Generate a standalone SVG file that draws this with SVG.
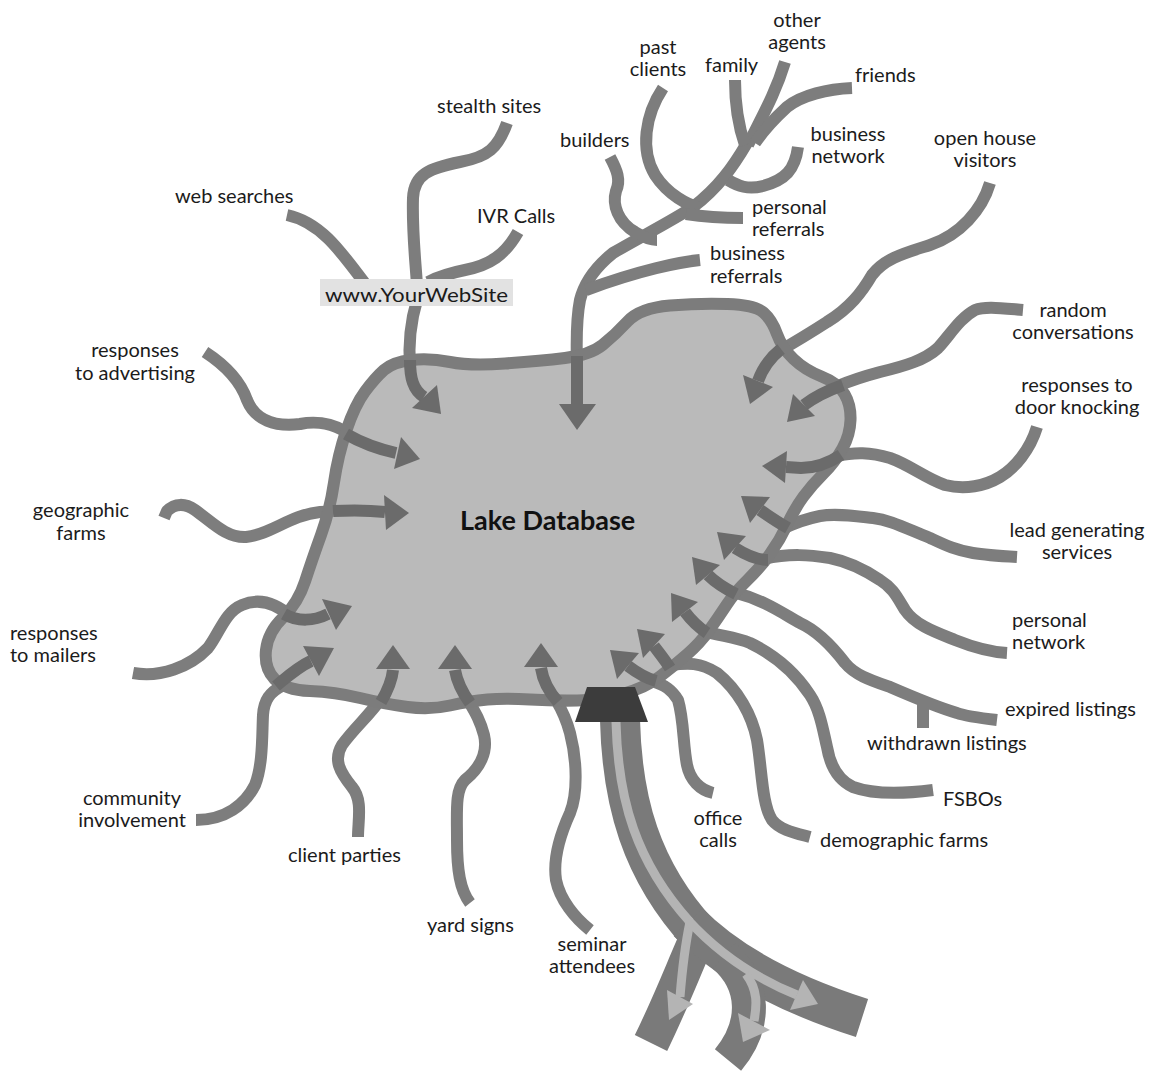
<svg xmlns="http://www.w3.org/2000/svg" width="1156" height="1076" viewBox="0 0 1156 1076">
<style>
.s{fill:none;stroke:#7d7d7d;stroke-width:12;stroke-linecap:butt;stroke-linejoin:round}
.a{fill:none;stroke:#6b6b6b;stroke-width:12;stroke-linecap:butt}
.h{fill:#6b6b6b}
.lbl{font-family:Lato,"Liberation Sans",sans-serif;font-size:20px;fill:#1b1b1b}
.c{text-anchor:middle}
.r{fill:none;stroke:#7a7a7a;stroke-linecap:butt}
.st{fill:none;stroke:#b4b4b4;stroke-width:9;stroke-linecap:butt}
.sh{fill:#b4b4b4}
</style>
<rect width="1156" height="1076" fill="#ffffff"/>
<g id="connectors">
<path class="s" d="M747,143 C733,167 718,188 693,207 C670,222 640,237 613,253 C598,265 585,280 580,300 C575,325 577,350 577,370"/>
<path class="s" d="M785,62 C775,95 760,120 748,145"/>
<path class="s" d="M735,80 C735,105 738,125 745,145"/>
<path class="s" d="M852,88 C828,89 802,95 787,107 C775,118 765,128 755,143"/>
<path class="s" d="M798,147 C795,170 785,180 763,186 C748,190 738,186 728,180"/>
<path class="s" d="M663,88 C645,115 640,150 655,175 C668,195 688,205 700,208"/>
<path class="s" d="M743,218 C725,218 705,217 686,214"/>
<path class="s" d="M610,157 C617,170 621,180 616,191 C612,205 618,222 635,232 C643,237 650,240 657,240"/>
<path class="s" d="M700,260 C680,262 640,270 586,290"/>
<path class="s" d="M287,215 C320,222 340,250 366,285"/>
<path class="s" d="M507,123 C498,148 488,157 460,162 C430,168 414,174 413,198 C412,230 415,255 417,285"/>
<path class="s" d="M417,300 C411,320 408,340 410,368"/>
<path class="s" d="M518,232 C505,255 490,265 465,270 C450,273 440,276 428,282"/>
<path class="s" d="M205,352 C225,365 240,380 247,400 C255,420 275,427 300,424 C320,420 340,425 356,440"/>
<path class="s" d="M164,518 L167,511 C175,503 185,503 195,510 C212,522 226,538 246,537 C270,535 290,515 320,512 L342,511"/>
<path class="s" d="M133,673 C160,678 190,667 208,648 C220,632 225,612 242,605 C258,598 275,602 293,618"/>
<path class="s" d="M196,820 C225,820 245,805 255,785 C263,765 262,735 263,715 C264,700 270,692 282,686"/>
<path class="s" d="M358,837 C358,820 363,800 352,787 C340,772 333,760 342,745 C355,727 370,715 383,696"/>
<path class="s" d="M470,903 C460,890 457,870 457,840 C457,810 455,790 465,780 C480,768 488,752 484,735 C480,720 475,712 468,700"/>
<path class="s" d="M590,930 C575,918 560,900 556,880 C553,860 560,835 570,813 C578,793 577,760 570,733 C566,718 562,710 556,700"/>
<path class="s" d="M713,793 C700,790 690,780 687,765 C683,745 684,720 678,700 C672,690 665,685 652,681"/>
<path class="s" d="M810,837 C795,833 780,830 772,820 C762,805 762,770 757,740 C752,715 738,690 717,673 C700,662 688,663 670,665"/>
<path class="s" d="M933,790 C910,793 875,795 853,787 C838,780 830,765 827,747 C823,730 820,710 810,695 C795,672 775,655 750,643 C735,637 720,636 704,631"/>
<path class="s" d="M997,720 C980,718 965,716 957,713 C940,708 920,700 890,687 C870,680 855,675 845,663 C835,650 820,632 800,623 C785,615 765,600 733,592"/>
<path class="s" d="M923,728 L923,704"/>
<path class="s" d="M1007,653 C990,652 975,648 955,640 C935,632 915,625 905,610 C897,597 893,588 880,580 C865,570 850,562 830,558 C810,555 790,553 764,559"/>
<path class="s" d="M1017,557 C1000,556 985,555 973,553 C955,550 945,545 930,538 C905,528 890,520 873,518 C855,516 835,513 820,516 C805,519 795,523 784,528"/>
<path class="s" d="M1037,427 C1030,450 1015,468 1000,477 C985,486 965,490 945,485 C925,478 910,465 890,458 C870,452 855,452 836,456"/>
<path class="s" d="M1023,310 C1000,308 985,306 975,310 C960,318 950,335 938,348 C925,360 905,366 880,372 C865,376 852,380 838,386"/>
<path class="s" d="M990,183 C982,210 960,235 930,245 C905,253 885,258 872,275 C862,292 850,308 827,322 C810,333 795,342 776,353"/>
</g>
<g id="lake">
<path d="M384,370 Q393,362 411.5,360 Q430,358 450,362 Q470,366 505,363.5 Q540,361 565,358 Q590,355 602.5,345 Q615,335 627.5,321.5 Q640,308 670,305.5 Q700,303 727.5,304 Q755,305 763.5,312.5 Q772,320 777,334 Q782,348 793.5,359 Q805,370 821.5,376.5 Q838,383 844.5,394 Q851,405 850.5,420 Q850,435 842.5,448.5 Q835,462 823.5,473.5 Q812,485 803.5,496.5 Q795,508 787.5,524 Q780,540 770,554 Q760,568 747.5,580 Q735,592 726.5,605 Q718,618 709,630.5 Q700,643 687.5,654 Q675,665 660,676.5 Q645,688 622.5,694 Q600,700 577.5,700.5 Q555,701 530,699.5 Q505,698 487.5,699.5 Q470,701 450,705.5 Q430,710 407.5,707 Q385,704 360,698 Q335,692 310,691 Q285,690 274.5,679 Q264,668 266,650 Q268,632 283,617.5 Q298,603 305,581.5 Q312,560 321,535 Q330,510 334,482.5 Q338,455 346.5,430 Q355,405 365,391.5 Q375,378 384,370 Z" fill="#bababa" stroke="#7c7c7c" stroke-width="12"/>
<text class="lbl" x="460" y="530" style="font-weight:bold;font-size:27px;fill:#111">Lake Database</text>
</g>
<g id="inflow-arrows">
<path class="a" d="M577,356 L577,406"/><polygon class="h" points="559,404 596,404 577,430"/>
<path class="a" d="M410,360 C410,378 413,390 424,397"/><polygon class="h" points="412,408 437,385 441,414"/>
<path class="a" d="M346,434 C360,442 378,449 396,453"/><polygon class="h" points="401,437 394,469 420,459"/>
<path class="a" d="M333,511 C352,510 368,510 385,512"/><polygon class="h" points="384,495 386,530 409,513"/>
<path class="a" d="M284,614 C298,622 314,621 328,614"/><polygon class="h" points="322,599 336,630 352,606"/>
<path class="a" d="M276,686 C288,676 298,667 311,661"/><polygon class="h" points="303,646 319,676 334,648"/>
<path class="a" d="M381,702 C388,690 392,680 393,670"/><polygon class="h" points="376,669 410,669 393,645"/>
<path class="a" d="M470,703 C462,692 457,682 455,670"/><polygon class="h" points="438,669 472,669 455,645"/>
<path class="a" d="M558,702 C549,692 543,681 541,668"/><polygon class="h" points="524,667 558,667 541,643"/>
<path class="a" d="M656,681 C645,678 636,672 628,666"/><polygon class="h" points="639,653 617,679 610,650"/>
<path class="a" d="M670,668 C665,660 660,654 654,646"/><polygon class="h" points="665,634 643,658 637,629"/>
<path class="a" d="M707,633 C698,627 691,620 685,612"/><polygon class="h" points="698,602 672,622 671,593"/>
<path class="a" d="M736,594 C726,589 716,583 708,575"/><polygon class="h" points="720,565 696,585 692,557"/>
<path class="a" d="M768,560 C756,560 746,555 735,548"/><polygon class="h" points="746,536 724,560 717,532"/>
<path class="a" d="M788,528 C779,523 770,517 760,510"/><polygon class="h" points="770,497 750,523 741,496"/>
<path class="a" d="M841,455 C829,463 816,468 801,468 L786,467"/><polygon class="h" points="787,451 785,483 762,466"/>
<path class="a" d="M843,385 C829,390 816,396 804,405"/><polygon class="h" points="793,394 815,416 787,422"/>
<path class="a" d="M781,349 C771,357 763,367 758,381"/><polygon class="h" points="743,375 773,387 750,404"/>
</g>
<g id="outflow">
<path class="r" stroke-width="40" d="M620,720 C622,800 640,870 700,935"/>
<path class="r" stroke-width="36" d="M700,932 C685,965 672,1000 651,1043"/>
<path class="r" stroke-width="40" d="M688,922 C730,965 790,995 862,1018"/>
<path class="r" stroke-width="34" d="M724,956 C756,984 757,1025 728,1060"/>
<path class="st" d="M616,722 C618,800 636,862 690,922"/>
<path class="st" d="M690,922 C684,950 682,972 680,997"/>
<polygon class="sh" points="667,990 693,1004 669,1020"/>
<path class="st" d="M688,920 C720,955 760,980 797,995"/>
<polygon class="sh" points="803,980 790,1010 818,1004"/>
<path class="st" d="M746,974 C758,990 757,1005 754,1021"/>
<polygon class="sh" points="738,1013 770,1030 743,1042"/>
<polygon id="dam" points="587,687 635,687 648,722 575,722" fill="#3c3c3c"/>
</g>
<g id="website">
<rect x="320" y="279" width="193" height="27" fill="#e2e2e2"/>
<text class="lbl" x="325" y="302" textLength="183" lengthAdjust="spacingAndGlyphs">www.YourWebSite</text>
</g>
<g id="n-web"><text class="lbl" x="175" y="203">web searches</text></g>
<g id="n-stealth"><text class="lbl" x="437" y="113">stealth sites</text></g>
<g id="n-ivr"><text class="lbl" x="477" y="223">IVR Calls</text></g>
<g id="n-past"><text class="lbl c" x="658" y="54">past</text><text class="lbl c" x="658" y="76">clients</text></g>
<g id="n-family"><text class="lbl" x="705" y="72">family</text></g>
<g id="n-other"><text class="lbl c" x="797" y="27">other</text><text class="lbl c" x="797" y="49">agents</text></g>
<g id="n-friends"><text class="lbl" x="855" y="82">friends</text></g>
<g id="n-bnet"><text class="lbl c" x="848" y="141">business</text><text class="lbl c" x="848" y="163">network</text></g>
<g id="n-builders"><text class="lbl" x="560" y="147">builders</text></g>
<g id="n-pref"><text class="lbl" x="752" y="214">personal</text><text class="lbl" x="752" y="236">referrals</text></g>
<g id="n-bref"><text class="lbl" x="710" y="260">business</text><text class="lbl" x="710" y="283">referrals</text></g>
<g id="n-open"><text class="lbl c" x="985" y="145">open house</text><text class="lbl c" x="985" y="167">visitors</text></g>
<g id="n-random"><text class="lbl c" x="1073" y="317">random</text><text class="lbl c" x="1073" y="339">conversations</text></g>
<g id="n-door"><text class="lbl c" x="1077" y="392">responses to</text><text class="lbl c" x="1077" y="414">door knocking</text></g>
<g id="n-lead"><text class="lbl c" x="1077" y="537">lead generating</text><text class="lbl c" x="1077" y="559">services</text></g>
<g id="n-pnet"><text class="lbl" x="1012" y="627">personal</text><text class="lbl" x="1012" y="649">network</text></g>
<g id="n-expired"><text class="lbl" x="1005" y="716">expired listings</text></g>
<g id="n-withdrawn"><text class="lbl" x="867" y="750">withdrawn listings</text></g>
<g id="n-fsbo"><text class="lbl" x="943" y="806">FSBOs</text></g>
<g id="n-demo"><text class="lbl" x="820" y="847">demographic farms</text></g>
<g id="n-office"><text class="lbl c" x="718" y="825">office</text><text class="lbl c" x="718" y="847">calls</text></g>
<g id="n-seminar"><text class="lbl c" x="592" y="951">seminar</text><text class="lbl c" x="592" y="973">attendees</text></g>
<g id="n-yard"><text class="lbl" x="427" y="932">yard signs</text></g>
<g id="n-client"><text class="lbl" x="288" y="862">client parties</text></g>
<g id="n-community"><text class="lbl c" x="132" y="805">community</text><text class="lbl c" x="132" y="827">involvement</text></g>
<g id="n-mailers"><text class="lbl" x="10" y="640">responses</text><text class="lbl" x="10" y="662">to mailers</text></g>
<g id="n-geo"><text class="lbl c" x="81" y="517">geographic</text><text class="lbl c" x="81" y="540">farms</text></g>
<g id="n-adv"><text class="lbl c" x="135" y="357">responses</text><text class="lbl c" x="135" y="380">to advertising</text></g>
</svg>
